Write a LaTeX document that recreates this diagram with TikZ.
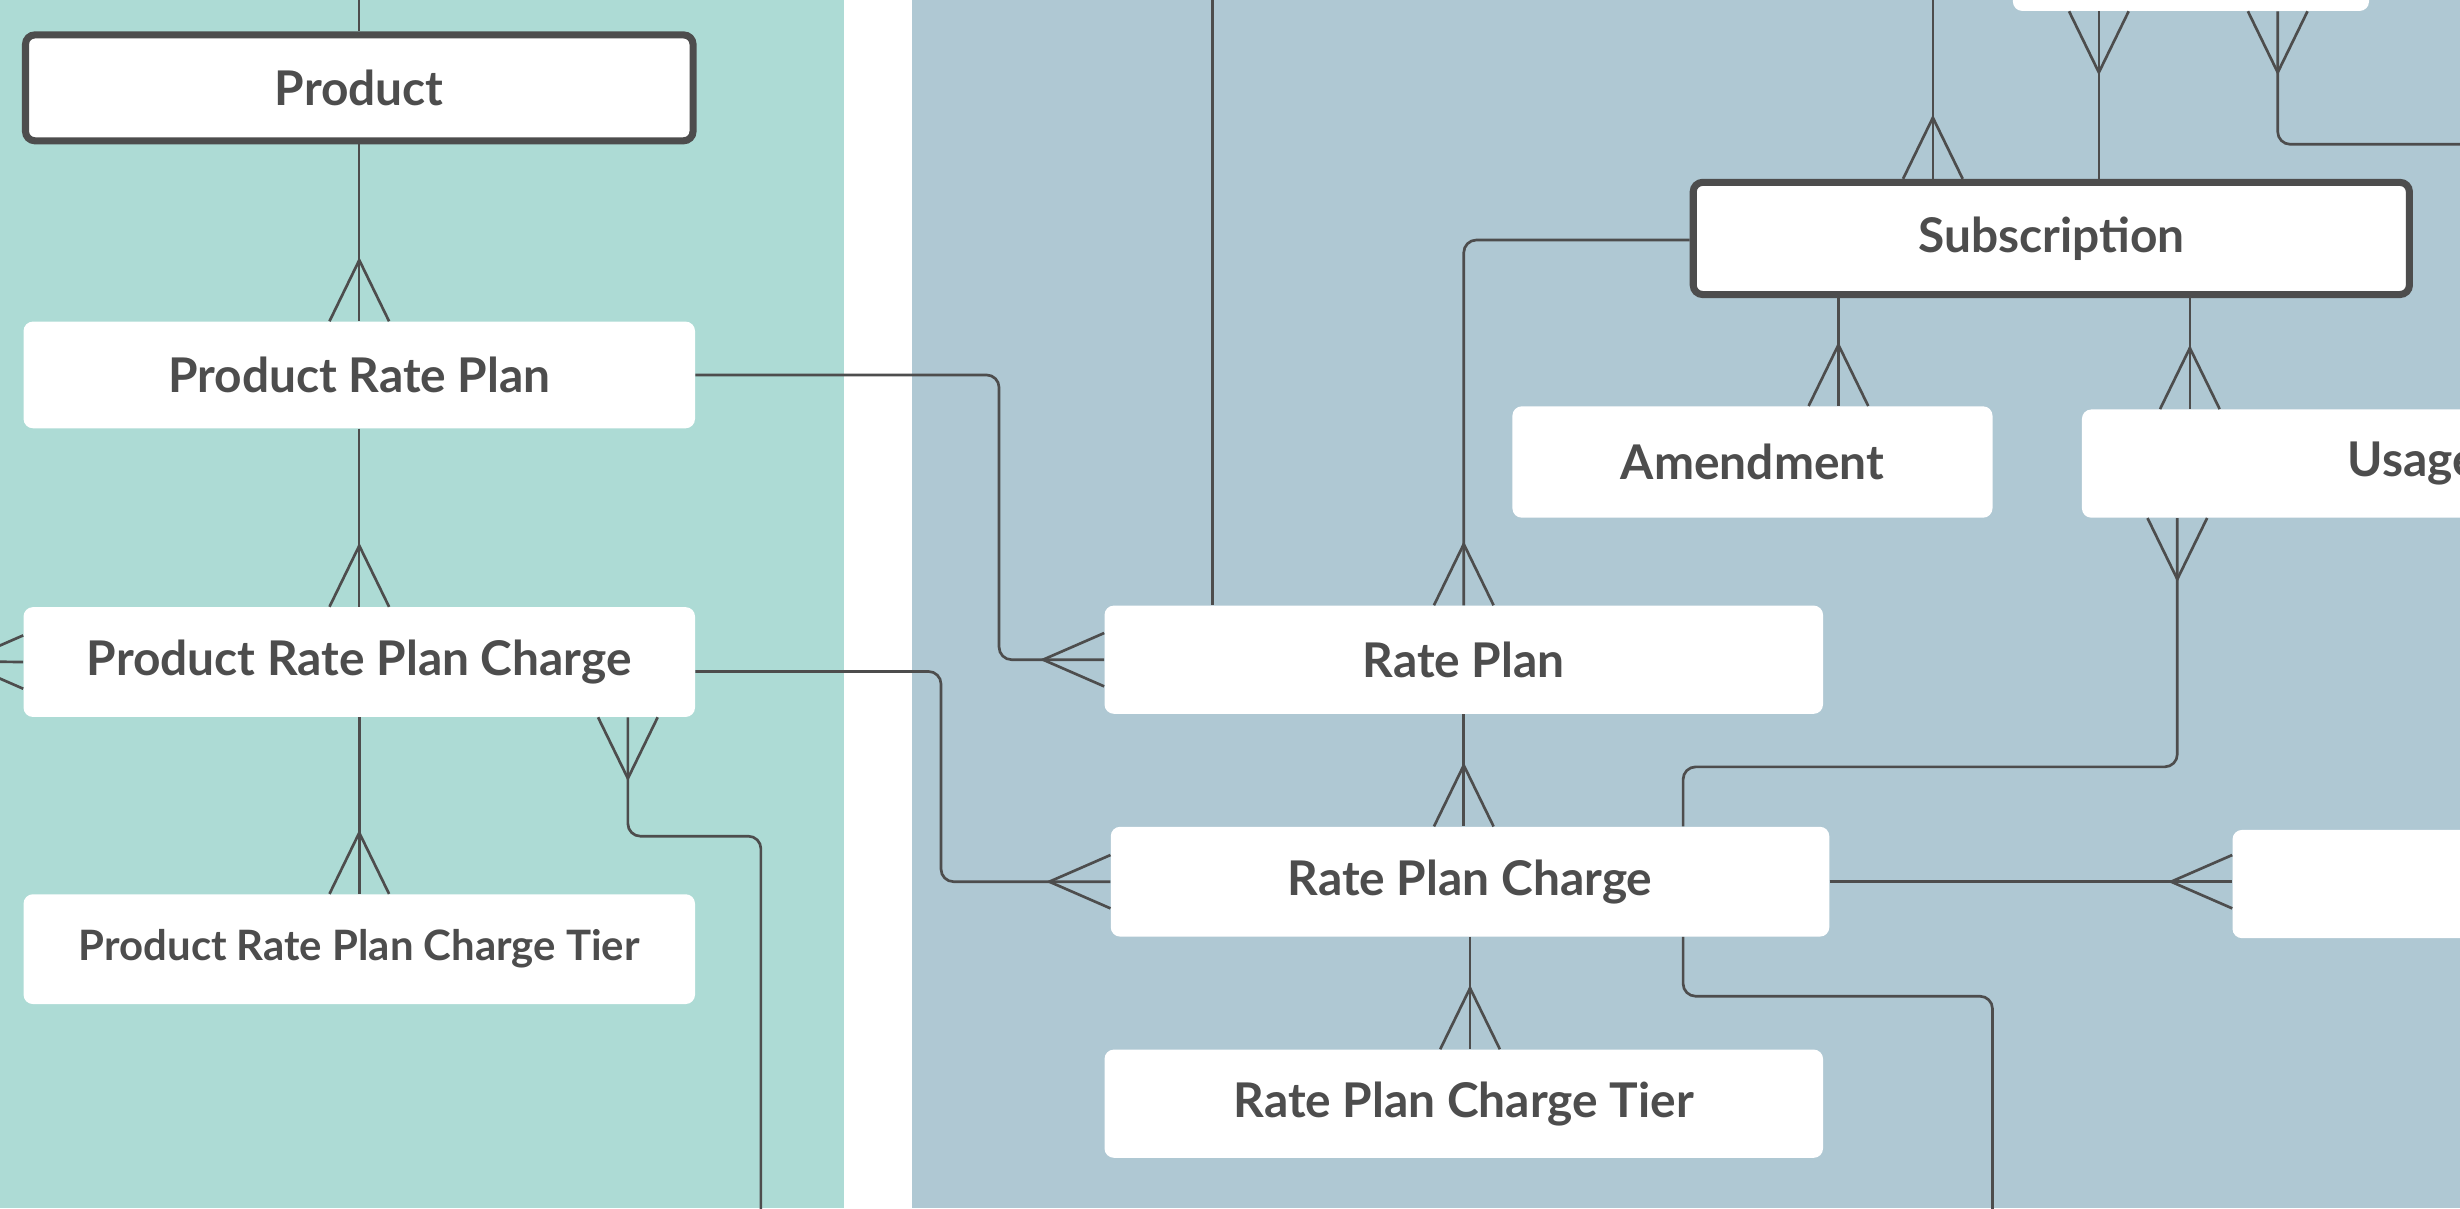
\documentclass[tikz,border=0pt]{standalone}
\usepackage{fontspec}
\setmainfont{Lato}
\usetikzlibrary{calc}
\definecolor{panelTeal}{RGB}{173,219,213}
\definecolor{panelBlue}{RGB}{175,200,211}
\definecolor{ink}{RGB}{77,77,77}
\newcommand\crowU[1]{\draw[crowst] ($(#1)+(-19,0)$) -- ($(#1)+(0,39)$) -- ($(#1)+(19,0)$);}
\newcommand\crowD[1]{\draw[crowst] ($(#1)+(-19,0)$) -- ($(#1)+(0,-39)$) -- ($(#1)+(19,0)$);}
\newcommand\crowL[1]{\draw[crowst] ($(#1)+(0,17)$) -- ($(#1)+(-39,0)$) -- ($(#1)+(0,-17)$);}
\begin{document}
\begin{tikzpicture}[x=1pt,y=1pt,
  box/.style={fill=white, rounded corners=6pt, inner sep=0pt, text=ink,
    font=\bfseries\fontsize{30.5}{33}\selectfont},
  mainbox/.style={box, draw=ink, line width=4.5pt},
  conn/.style={draw=ink, line width=1.7pt},
  thinconn/.style={draw=ink, line width=1pt},
  crowst/.style={draw=ink, line width=1.7pt, line join=miter}]
\useasboundingbox (0,0) rectangle (1568,770);
\clip (0,0) rectangle (1568,770);
\fill[panelTeal] (0,0) rectangle (538,770);
\fill[white] (538,0) rectangle (581,770);
\fill[panelBlue] (581,0) rectangle (1568,770);

% nodes
\node[mainbox, minimum width=425.5pt, minimum height=67.5pt] (prod) at (229,714) {Product};
\node[box, minimum width=428pt, minimum height=68pt] (prp) at (229,531) {Product Rate Plan};
\node[box, minimum width=428pt, minimum height=70pt] (prpc) at (229,348) {Product Rate Plan Charge};
\node[box, minimum width=428pt, minimum height=70pt, font=\bfseries\fontsize{26.7}{29}\selectfont] (prpct) at (229,165) {Product Rate Plan Charge Tier};
\node[mainbox, minimum width=456.5pt, minimum height=71.5pt] (sub) at (1307.5,618) {Subscription};
\node[box, minimum width=306pt, minimum height=71pt] (amend) at (1117,475.5) {Amendment};
\node[box, minimum width=422pt, minimum height=69pt] (usage) at (1538,474.5) {Usage};
\node[box, minimum width=227pt, minimum height=70pt] (topbox) at (1396.5,798) {};
\node[box, minimum width=458pt, minimum height=69pt] (rp) at (933,349.5) {Rate Plan};
\node[box, minimum width=458pt, minimum height=70pt] (rpc) at (937,208) {Rate Plan Charge};
\node[box, minimum width=458pt, minimum height=69pt] (rpct) at (933,66.5) {Rate Plan Charge Tier};
\node[box, minimum width=300pt, minimum height=69pt] (rbox) at (1573,206.5) {};

% free ends and bends
\coordinate (tA) at (229,790);
\coordinate (tB) at (773,790);
\coordinate (tC) at (1232,790);
\coordinate (lA) at (-60,349);
\coordinate (gK) at (485,237);
\coordinate (bA) at (485,-20);
\coordinate (rA) at (1600,678);
\coordinate (oK) at (1270,135);
\coordinate (bB) at (1270,-20);

% product column
\draw[thinconn] (tA) -- (prod.north);
\draw[thinconn] (prod.south) -- (prp.north); \crowU{prp.north}
\draw[thinconn] (prp.south) -- (prpc.north); \crowU{prpc.north}
\draw[conn] (prpc.south) -- (prpct.north); \crowU{prpct.north}
\draw[conn] (prpc.west) -- (lA); \crowL{prpc.west}
\coordinate (gP) at ($(prpc.south east)+(-43,0)$);
\draw[conn, rounded corners=8pt] (gP) |- (gK) -- (bA); \crowD{gP}

% product -> subscription side
\draw[conn, rounded corners=8pt] (prp.east) -| ($(rp.west)+(-67,0)$) -- (rp.west); \crowL{rp.west}
\draw[conn, rounded corners=8pt] ($(prpc.east)+(0,-6)$) -| ($(rpc.west)+(-108,0)$) -- (rpc.west); \crowL{rpc.west}

% rate plan column
\draw[conn] (tB) -- (tB |- rp.north);
\draw[conn, rounded corners=8pt] ($(sub.west)+(0,-1)$) -| (rp.north); \crowU{rp.north}
\draw[conn] (rp.south) -- (rp.south |- rpc.north); \crowU{rp.south |- rpc.north}
\draw[conn] (rpc.south) -- (rpc.south |- rpct.north); \crowU{rpc.south |- rpct.north}
\draw[conn] (rpc.east) -- (rpc.east -| rbox.west); \crowL{rpc.east -| rbox.west}

% subscription
\draw[conn] (tC) -- (tC |- sub.north); \crowU{tC |- sub.north}
\coordinate (kA) at ($(topbox.south west)+(55,0)$);
\draw[conn] (kA) -- (kA |- sub.north); \crowD{kA}
\coordinate (lB) at ($(topbox.south west)+(169,0)$);
\draw[conn, rounded corners=8pt] (lB) |- (rA); \crowD{lB}
\coordinate (mA) at ($(amend.north west)+(208,0)$);
\draw[conn] (mA |- sub.south) -- (mA); \crowU{mA}
\coordinate (nA) at ($(usage.north west)+(69,0)$);
\draw[conn] (nA |- sub.south) -- (nA); \crowU{nA}

% usage -> rate plan charge
\coordinate (oA) at ($(usage.south west)+(61,0)$);
\coordinate (oB) at ($(rpc.north west)+(365,0)$);
\draw[conn, rounded corners=8pt] (oA) |- ($(oB)+(0,38)$) -- (oB); \crowD{oA}
\coordinate (oC) at ($(rpc.south west)+(365,0)$);
\draw[conn, rounded corners=8pt] (oC) |- (oK) -- (bB);
\end{tikzpicture}
\end{document}
